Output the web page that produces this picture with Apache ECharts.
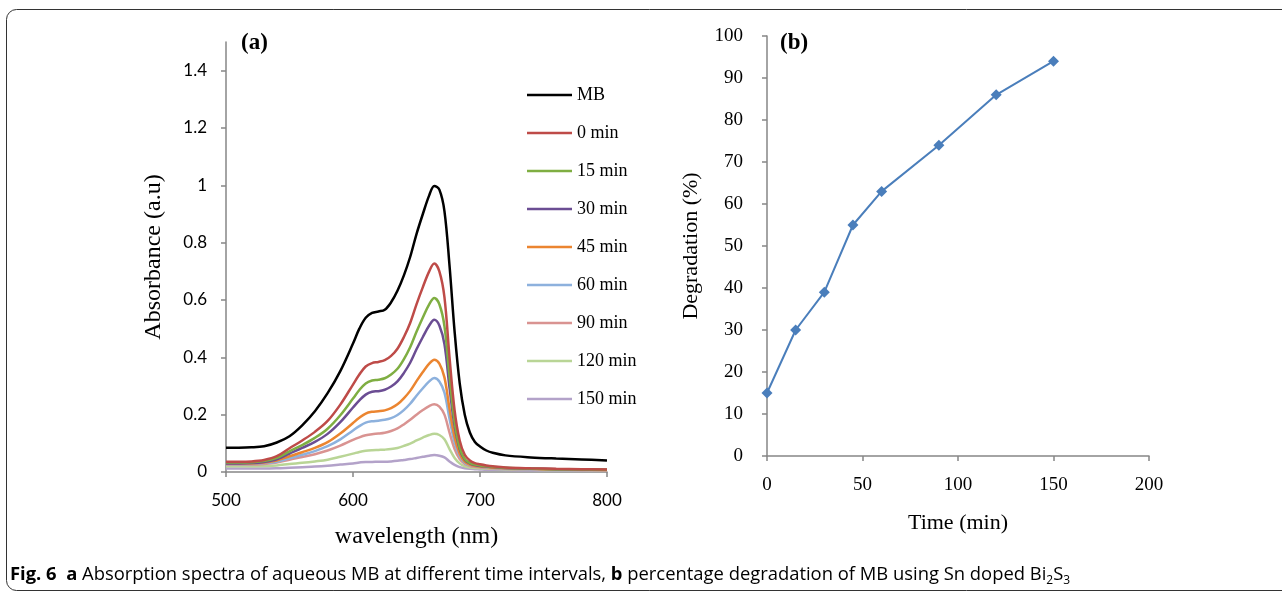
<!DOCTYPE html>
<html>
<head>
<meta charset="utf-8">
<script src="https://cdn.jsdelivr.net/npm/echarts@6/dist/echarts.min.js"></script>
<style>
html,body{margin:0;padding:0;background:#fff;}
#chart{width:1282px;height:592px;}
</style>
</head>
<body>
<div id="chart"></div>
<script>
// ---------- Data ----------
const wavelength = [500,510,520,530,540,550,560,570,580,590,600,605,610,615,620,625,630,635,640,645,650,655,660,664,668,672,676,680,684,688,692,696,700,705,710,720,740,760,780,800];

const specMB = [.085,.085,.086,.090,.103,.125,.163,.212,.275,.352,.448,
  .500,.538,.555,.560,.566,.592,.632,.685,.750,.830,.900,.965,
  .998,.985,.910,.720,.490,.310,.200,.138,.105,.089,
  .075,.067,.058,.051,.047,.044,.040];
const spec0 = [.036,.036,.037,.042,.055,.083,.110,.140,.178,.235,.305,
  .340,.368,.380,.384,.390,.405,.430,.470,.520,.585,.645,.700,
  .727,.700,.610,.400,.215,.110,.060,.040,.031,.027,
  .023,.020,.016,.013,.011,.010,.009];
const spec15 = [.033,.033,.034,.038,.049,.072,.094,.119,.151,.198,.256,
  .286,.309,.319,.322,.327,.340,.360,.393,.435,.489,.539,.585,
  .607,.585,.509,.335,.175,.085,.045,.032,.026,.023,
  .020,.018,.015,.012,.010,.009,.008];
const spec30 = [.030,.030,.031,.035,.044,.064,.084,.105,.133,.174,.225,
  .250,.270,.280,.282,.287,.298,.316,.345,.381,.428,.471,.511,
  .531,.511,.446,.294,.160,.080,.043,.030,.024,.021,
  .019,.017,.014,.012,.010,.009,.008];
const spec45 = [.030,.030,.030,.033,.040,.055,.069,.084,.104,.134,.171,
  .189,.204,.210,.212,.215,.223,.236,.257,.283,.317,.349,.378,
  .392,.378,.330,.221,.122,.064,.036,.026,.021,.019,
  .017,.015,.013,.011,.009,.008,.007];
const spec60 = [.028,.028,.028,.031,.036,.048,.060,.073,.090,.114,.145,
  .160,.172,.177,.179,.182,.188,.199,.216,.238,.266,.292,.316,
  .328,.316,.277,.186,.104,.056,.032,.024,.020,.018,
  .016,.014,.012,.010,.009,.008,.007];
const spec90 = [.026,.026,.026,.028,.033,.043,.052,.062,.075,.092,.112,
  .121,.128,.132,.134,.137,.143,.152,.166,.182,.200,.216,.230,
  .236,.228,.200,.137,.080,.045,.028,.021,.018,.016,
  .014,.013,.011,.009,.008,.007,.006];
const spec120 = [.020,.020,.020,.021,.023,.028,.032,.037,.043,.053,.064,
  .070,.074,.076,.077,.078,.080,.084,.091,.099,.110,.120,.129,
  .133,.129,.114,.080,.049,.030,.020,.016,.014,.013,
  .012,.011,.010,.008,.007,.007,.006];
const spec150 = [.012,.012,.012,.012,.013,.015,.017,.019,.022,.026,.030,
  .033,.035,.035,.036,.036,.037,.039,.042,.045,.049,.053,.057,
  .059,.057,.051,.037,.025,.017,.013,.011,.010,.009,
  .008,.008,.007,.006,.005,.005,.004];

const seriesNames = ['MB','0 min','15 min','30 min','45 min','60 min','90 min','120 min','150 min'];
const seriesData = [specMB, spec0, spec15, spec30, spec45, spec60, spec90, spec120, spec150];
const seriesColors = ['#000000','#BE4B48','#7FAE42','#6B4D93','#EB8530','#8DB1DD','#D99391','#B9D596','#B3A2C9'];

const timeMin = [0,15,30,45,60,90,120,150];
const degradation = [15,30,39,55,63,74,86,94];

const absTicks = [0,0.2,0.4,0.6,0.8,1,1.2,1.4];
const wlTicks = [500,600,700,800];
const timeTicks = [0,50,100,150,200];
const degTicks = [0,10,20,30,40,50,60,70,80,90,100];

// ---------- Chart ----------
const chart = echarts.init(document.getElementById('chart'), null, {renderer:'canvas'});
const serif = '"Liberation Serif","Times New Roman",serif';
const sans = 'Lato,"Liberation Sans",sans-serif';
const axisGray = '#868686';

const spectraSeries = seriesNames.map((n,i)=>({
  name:n, type:'line', xAxisIndex:0, yAxisIndex:0,
  data: wavelength.map((w,k)=>[w, seriesData[i][k]]),
  symbol:'none', smooth:0.35,
  lineStyle:{color:seriesColors[i], width:2.5},
  itemStyle:{color:seriesColors[i]},
  z: 10 - i
}));

const option = {
  backgroundColor:'#fff',
  animation:false,
  grid:[
    {left:226, top:42, width:381, height:430},
    {left:767, top:36, width:382, height:420}
  ],
  legend:{
    data:seriesNames,
    orient:'vertical', left:527, top:86, padding:0,
    itemWidth:45, itemHeight:14, itemGap:20,
    textStyle:{fontFamily:serif, fontSize:18, color:'#000'},
    icon:'path://M0,6 L45,6 L45,8.5 L0,8.5 Z'
  },
  xAxis:[
    {gridIndex:0, type:'value', min:500, max:800, interval:100,
     name:'wavelength (nm)', nameLocation:'middle', nameGap:53,
     nameTextStyle:{fontFamily:serif, fontSize:24, color:'#000'},
     axisLine:{lineStyle:{color:axisGray, width:1.5}},
     axisTick:{show:true, length:5, lineStyle:{color:axisGray, width:1.5}, customValues:wlTicks},
     axisLabel:{fontFamily:sans, fontSize:17, color:'#000', margin:20, customValues:wlTicks},
     splitLine:{show:false}},
    {gridIndex:1, type:'value', min:0, max:200, interval:50,
     name:'Time (min)', nameLocation:'middle', nameGap:56,
     nameTextStyle:{fontFamily:serif, fontSize:22, color:'#000'},
     axisLine:{lineStyle:{color:axisGray, width:1.5}},
     axisTick:{show:true, length:5, lineStyle:{color:axisGray, width:1.5}, customValues:timeTicks},
     axisLabel:{fontFamily:serif, fontSize:19, color:'#000', margin:20, customValues:timeTicks},
     splitLine:{show:false}}
  ],
  yAxis:[
    {gridIndex:0, type:'value', min:0, max:1.5, interval:0.1,
     name:'Absorbance (a.u)', nameLocation:'middle', nameGap:60,
     nameTextStyle:{fontFamily:serif, fontSize:24, color:'#000'},
     axisLine:{show:true, lineStyle:{color:axisGray, width:1.5}},
     axisTick:{show:true, length:5, lineStyle:{color:axisGray, width:1.5}, customValues:absTicks},
     axisLabel:{fontFamily:sans, fontSize:17, color:'#000', margin:19, customValues:absTicks},
     splitLine:{show:false}},
    {gridIndex:1, type:'value', min:0, max:100, interval:10,
     name:'Degradation (%)', nameLocation:'middle', nameGap:65,
     nameTextStyle:{fontFamily:serif, fontSize:22, color:'#000'},
     axisLine:{show:true, lineStyle:{color:axisGray, width:1.5}},
     axisTick:{show:true, length:5, lineStyle:{color:axisGray, width:1.5}, customValues:degTicks},
     axisLabel:{fontFamily:serif, fontSize:19, color:'#000', margin:24, customValues:degTicks},
     splitLine:{show:false}}
  ],
  series: spectraSeries.concat([{
    name:'Degradation', type:'line', xAxisIndex:1, yAxisIndex:1,
    data: timeMin.map((t,i)=>[t, degradation[i]]),
    symbol:'diamond', symbolSize:11,
    lineStyle:{color:'#4A7EBB', width:2},
    itemStyle:{color:'#4A7EBB'}
  }]),
  graphic:[
    {type:'rect', shape:{x:6.5, y:9.5, width:1300, height:581, r:10},
     style:{fill:'none', stroke:'#333', lineWidth:1}, silent:true, z:-1},
    {type:'text', left:241, top:32, style:{text:'(a)', font:'bold 23px '+serif, fill:'#000'}},
    {type:'text', left:780, top:32, style:{text:'(b)', font:'bold 23px '+serif, fill:'#000'}},
    {type:'text', left:10, top:566, style:{
      text:'{b|Fig. 6}  {b|a} Absorption spectra of aqueous MB at different time intervals, {b|b} percentage degradation of MB using Sn doped Bi{s|2}S{s|3}',
      fontFamily:'"Open Sans",sans-serif', fontSize:18.4, fill:'#000',
      rich:{
        b:{fontFamily:'"Open Sans",sans-serif', fontWeight:'bold', fontSize:18.4, lineHeight:24},
        s:{fontFamily:'"Open Sans",sans-serif', fontSize:12, lineHeight:24, verticalAlign:'bottom', padding:[9,0,0,0]}
      }
    }}
  ]
};
chart.setOption(option);
</script>
</body>
</html>
